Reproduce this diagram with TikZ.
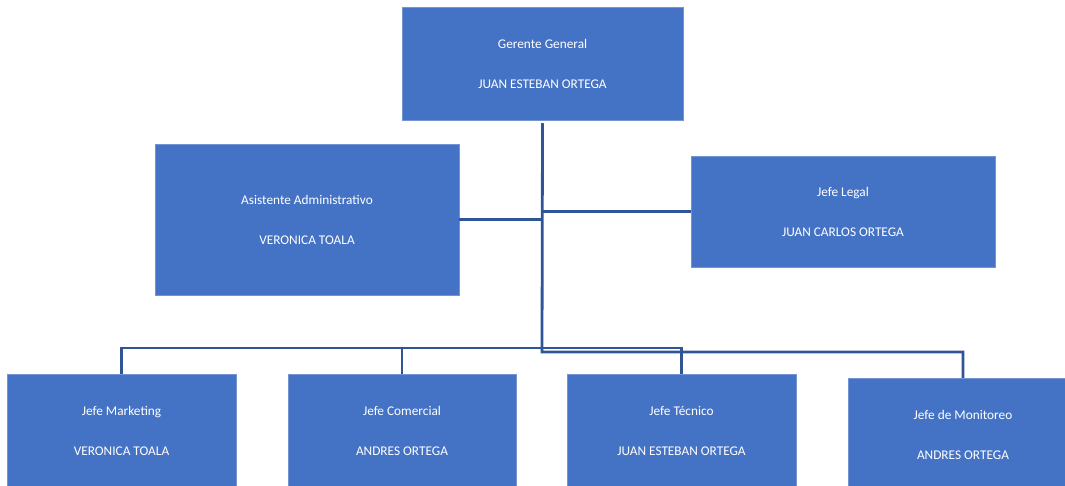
\documentclass[tikz,border=0pt]{standalone}
\usepackage{fontspec}
\setmainfont{Carlito}
\usepackage{tikz}
\usetikzlibrary{calc}
\definecolor{boxblue}{HTML}{4472C4}
\definecolor{linkblue}{HTML}{2F5597}
\tikzset{
  orgbox/.style={fill=boxblue, draw=boxblue!75!white, line width=0.5pt, text=white,
    align=center, inner sep=0pt, font=\fontsize{13.3}{16}\selectfont},
  link/.style={draw=linkblue, line width=2.8pt}
}

\begin{document}
\begin{tikzpicture}[x=1pt,y=-1pt]
  \clip (0,0) rectangle (1065,486);
  \useasboundingbox (0,0) rectangle (1065,486);
  \node[orgbox, minimum width=281pt, minimum height=113pt] (ger) at (542.5,63.5)
    {Gerente General\\[24pt]JUAN ESTEBAN ORTEGA};
  \node[orgbox, minimum width=304pt, minimum height=151pt] (asis) at (307,219.5)
    {Asistente Administrativo\\[24pt]VERONICA TOALA};
  \node[orgbox, minimum width=304pt, minimum height=111pt] (legal) at (843,211.5)
    {Jefe Legal\\[24pt]JUAN CARLOS ORTEGA};
  \node[orgbox, minimum width=229pt, minimum height=114pt] (mkt) at (121.5,431)
    {Jefe Marketing\\[24pt]VERONICA TOALA};
  \node[orgbox, minimum width=228pt, minimum height=114pt] (com) at (402,431)
    {Jefe Comercial\\[24pt]ANDRES ORTEGA};
  \node[orgbox, minimum width=229pt, minimum height=114pt] (tec) at (681.5,431)
    {Jefe Técnico\\[24pt]JUAN ESTEBAN ORTEGA};
  \node[orgbox, minimum width=230pt, minimum height=114pt] (mon) at (963,435)
    {Jefe de Monitoreo\\[24pt]ANDRES ORTEGA};
  % connectors
  \coordinate (hub) at (542,352);
  \coordinate (bus) at (121,348);
  \draw[link] ($(ger.south)+(0,3)$) -- (hub) -| (mon.north);
  \draw[link] (asis.east) -- (asis.east -| hub);
  \draw[link] (legal.west) -- (legal.west -| hub);
  \draw[link] (mkt.north) -- (mkt.north |- bus) -- (tec.north |- bus) -- (tec.north);
  \draw[link] (com.north) -- (com.north |- bus);
\end{tikzpicture}
\end{document}
